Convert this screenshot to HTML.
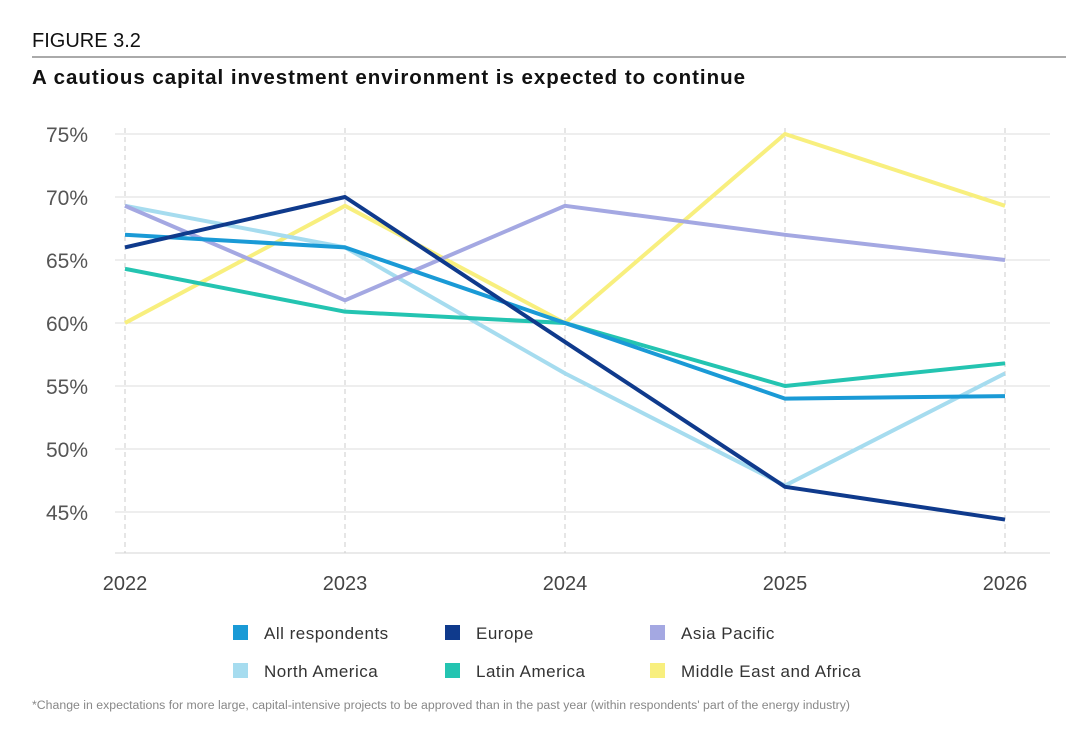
<!DOCTYPE html>
<html><head><meta charset="utf-8"><style>
body{margin:0;background:#fff;font-family:"Liberation Sans",sans-serif;}
#wrap{position:relative;width:1080px;height:729px;overflow:hidden;}
</style></head><body>
<div id="wrap">
<svg id="chart" width="1080" height="729">
<text x="32" y="47" font-size="20" fill="#111">FIGURE 3.2</text>
<line x1="32" y1="57" x2="1066" y2="57" stroke="#555" stroke-width="1"/>
<text x="32" y="84" font-size="20.5" font-weight="bold" fill="#111" textLength="713" lengthAdjust="spacing">A cautious capital investment environment is expected to continue</text>
<g id="grid"></g><g id="lines"></g><g id="legend"></g>
<text x="32" y="709" font-size="11.5" fill="#888" textLength="818" lengthAdjust="spacingAndGlyphs">*Change in expectations for more large, capital-intensive projects to be approved than in the past year (within respondents' part of the energy industry)</text>
</svg>
</div>
<script>
const years=["2022","2023","2024","2025","2026"];
const yTicks=[45,50,55,60,65,70,75];
const seriesNames=["All respondents","Europe","Asia Pacific","North America","Latin America","Middle East and Africa"];
const seriesColors=["#1a9ad6","#0f3a8c","#a4a8e2","#a6dcef","#24c4b1","#f8ef7e"];
const allRespondents=[67,66,60,54,54.2];
const europe=[66,70,58.5,47,44.4];
const asiaPacific=[69.3,61.8,69.3,67,65];
const northAmerica=[69.3,66,56,47.1,56];
const latinAmerica=[64.3,60.9,60,55,56.8];
const middleEastAfrica=[60,69.3,60,75,69.3];
const series=[allRespondents,europe,asiaPacific,northAmerica,latinAmerica,middleEastAfrica];
const drawOrder=[5,3,2,4,0,1];
const NS="http://www.w3.org/2000/svg";
const xPos=i=>125+i*220;
const yPos=v=>134+(75-v)*12.6;
function mk(t,a,p){const e=document.createElementNS(NS,t);for(const k in a)e.setAttribute(k,a[k]);p.appendChild(e);return e;}
const grid=document.getElementById('grid');
yTicks.forEach(t=>{
 const l=mk('line',{x1:115,x2:1050,y1:yPos(t),y2:yPos(t),stroke:'#dcdcdc','stroke-width':1},grid);
 
 
 const tx=mk('text',{x:88,y:yPos(t)+8,'font-size':21,fill:'#555','text-anchor':'end'},grid);
 tx.textContent=t+'%';
 
 
});
const ax=mk('line',{x1:115,x2:1050,y1:553,y2:553,stroke:'#d6d6d6'},grid);


years.forEach((y,i)=>{
 const l=mk('line',{x1:xPos(i),x2:xPos(i),y1:128,y2:553,stroke:'#ccc','stroke-dasharray':'5,4'},grid);
 
 
 const t=mk('text',{x:xPos(i),y:590,'font-size':20,fill:'#444','text-anchor':'middle'},grid);
 t.textContent=y;
 
 
});
const lines=document.getElementById('lines');
drawOrder.forEach(si=>{
 const pts=series[si].map((v,i)=>xPos(i)+','+yPos(v)).join(' ');
 const p=mk('polyline',{points:pts,fill:'none',stroke:seriesColors[si],'stroke-width':4,'stroke-linejoin':'round'},lines);
 
 
});
const leg=document.getElementById('legend');
const lx=[233,445,650],ly=[633,671];
seriesNames.forEach((n,i)=>{
 const x=lx[i%3],y=ly[Math.floor(i/3)];
 const g=mk('g',{},leg);
 
 
 mk('rect',{x:x,y:y-8,width:15,height:15,fill:seriesColors[i]},g);
 const t=mk('text',{x:x+31,y:y+6,'font-size':17,fill:'#333','letter-spacing':'0.5'},g);
 t.textContent=n;
});
</script>
</body></html>
